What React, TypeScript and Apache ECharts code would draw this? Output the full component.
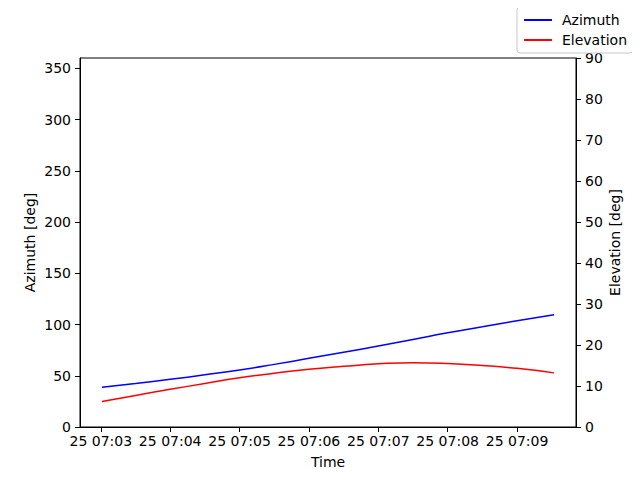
import React, { useRef, useEffect } from "react";
import * as echarts from "echarts";

// seconds after 07:03:00 (day 25)
const times = [1, 30, 60, 90, 120, 150, 180, 210, 240, 270, 300, 330, 360, 392];
const azimuth = [38.7, 42.4, 46.5, 50.9, 55.6, 61.1, 67.0, 72.9, 79.0, 85.4, 92.0, 97.8, 103.6, 109.4];
const elevation = [6.2, 7.7, 9.2, 10.6, 12.0, 13.1, 14.1, 14.8, 15.4, 15.7, 15.5, 15.0, 14.3, 13.2];

const xTicks = [0, 60, 120, 180, 240, 300, 360];
const xTickLabels = ["25 07:03", "25 07:04", "25 07:05", "25 07:06", "25 07:07", "25 07:08", "25 07:09"];
const azTicks = [0, 50, 100, 150, 200, 250, 300, 350];
const elTicks = [0, 10, 20, 30, 40, 50, 60, 70, 80, 90];

const font = "DejaVu Sans";

const App = function () {
  const chart = useRef(null);
  useEffect(() => {
    if (!chart.current) return;
    const myChart = echarts.init(chart.current as any, null, { renderer: "svg" });
    const axisText = { color: "#000", fontFamily: font, fontSize: 14 };
    const option = {
      animation: false,
      textStyle: { fontFamily: font },
      grid: {
        left: 80,
        right: 64,
        top: 58,
        bottom: 53,
        show: true,
        borderColor: "#000",
        borderWidth: 1,
        backgroundColor: "transparent",
      },
      legend: {
        orient: "vertical",
        right: 7,
        top: 7,
        itemWidth: 28,
        itemHeight: 14,
        itemGap: 6,
        padding: [6, 6, 6, 6],
        borderColor: "#c8c8c8",
        borderWidth: 1,
        borderRadius: 3,
        backgroundColor: "#fff",
        itemStyle: { opacity: 0 },
        textStyle: { ...axisText, padding: [0, 0, 0, 5] },
        data: ["Azimuth", "Elevation"],
      },
      xAxis: {
        type: "value",
        min: -18,
        max: 411,
        name: "Time",
        nameLocation: "middle",
        nameGap: 28,
        nameMoveOverlap: false,
        nameTextStyle: axisText,
        splitLine: { show: false },
        axisLine: { onZero: false, lineStyle: { color: "#000" } },
        axisTick: { length: 5, lineStyle: { color: "#000" }, customValues: xTicks },
        axisLabel: {
          ...axisText,
          margin: 7,
          customValues: xTicks,
          formatter: (v: number) => xTickLabels[xTicks.indexOf(Math.round(v))] || "",
        },
      },
      yAxis: [
        {
          type: "value",
          min: 0,
          max: 360,
          position: "left",
          name: "Azimuth [deg]",
          nameLocation: "middle",
          nameRotate: 90,
          nameGap: 43,
          nameMoveOverlap: false,
          nameTextStyle: axisText,
          splitLine: { show: false },
          axisLine: { show: true, onZero: false, lineStyle: { color: "#000" } },
          axisTick: { show: true, length: 5, lineStyle: { color: "#000" }, customValues: azTicks },
          axisLabel: { ...axisText, margin: 9, customValues: azTicks },
        },
        {
          type: "value",
          min: 0,
          max: 90,
          position: "right",
          name: "Elevation [deg]",
          nameLocation: "middle",
          nameRotate: 90,
          nameGap: 32,
          nameMoveOverlap: false,
          nameTextStyle: axisText,
          splitLine: { show: false },
          axisLine: { show: true, onZero: false, lineStyle: { color: "#000" } },
          axisTick: { show: true, length: 5, lineStyle: { color: "#000" }, customValues: elTicks },
          axisLabel: { ...axisText, margin: 9, customValues: elTicks },
        },
      ],
      series: [
        {
          name: "Azimuth",
          type: "line",
          yAxisIndex: 0,
          smooth: true,
          symbol: "none",
          data: times.map((t, i) => [t, azimuth[i]]),
          lineStyle: { color: "#0000ff", width: 1.5 },
          itemStyle: { color: "#0000ff" },
        },
        {
          name: "Elevation",
          type: "line",
          yAxisIndex: 1,
          smooth: true,
          symbol: "none",
          data: times.map((t, i) => [t, elevation[i]]),
          lineStyle: { color: "#ff0000", width: 1.5 },
          itemStyle: { color: "#ff0000" },
        },
      ],
    };
    myChart.setOption(option);
    return () => {
      myChart.dispose();
    };
  }, []);
  return <div ref={chart} style={{ width: 640, height: 480, margin: -8 }}></div>;
};

export default App;
